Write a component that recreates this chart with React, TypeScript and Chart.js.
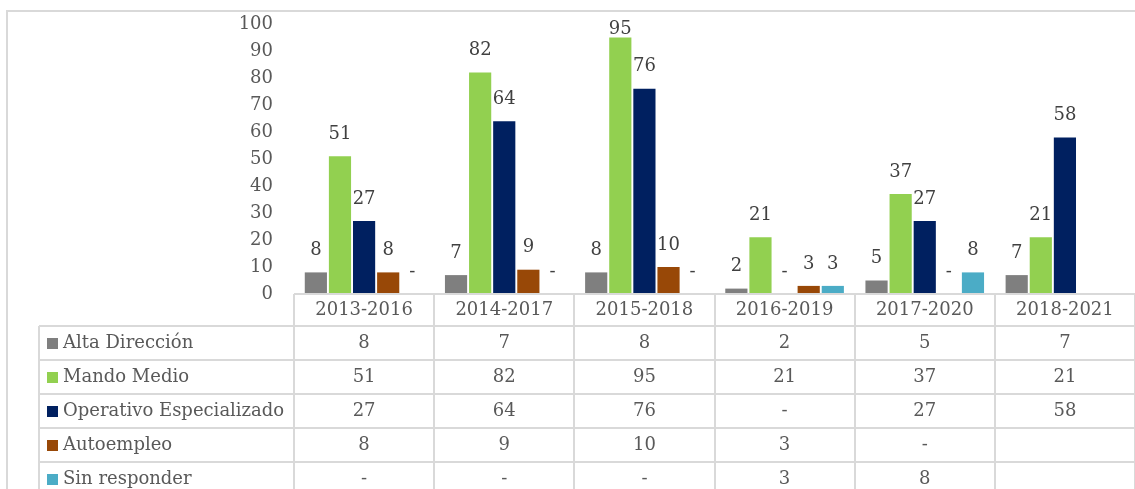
import React, { useEffect, useRef } from "react";
import { Chart, registerables } from "chart.js";

Chart.register(...registerables);

const categories = ["2013-2016", "2014-2017", "2015-2018", "2016-2019", "2017-2020", "2018-2021"];
const seriesNames = ["Alta Dirección", "Mando Medio", "Operativo Especializado", "Autoempleo", "Sin responder"];
const seriesColors = ["#7F7F7F", "#92D050", "#002060", "#984807", "#4BACC6"];
// 0 is shown as "-", null as blank
const altaDireccion: (number | null)[] = [8, 7, 8, 2, 5, 7];
const mandoMedio: (number | null)[] = [51, 82, 95, 21, 37, 21];
const operativoEspecializado: (number | null)[] = [27, 64, 76, 0, 27, 58];
const autoempleo: (number | null)[] = [8, 9, 10, 3, 0, null];
const sinResponder: (number | null)[] = [0, 0, 0, 3, 8, null];
const yTicks = [0, 10, 20, 30, 40, 50, 60, 70, 80, 90, 100];

const seriesValues = [altaDireccion, mandoMedio, operativoEspecializado, autoempleo, sinResponder];

const FONT = "'DejaVu Serif', 'Liberation Serif', serif";
const FS = 18;
const LINE = "#D9D9D9";
const TEXT = "#595959";

const fmt = (v: number | null) => (v === null || v === undefined ? "" : v === 0 ? "-" : String(v));

const framePlugin = {
  id: "frame",
  beforeDraw(chart: any) {
    const ctx = chart.ctx;
    ctx.save();
    ctx.strokeStyle = LINE;
    ctx.lineWidth = 2;
    ctx.beginPath();
    ctx.moveTo(7, chart.height);
    ctx.lineTo(7, 11);
    ctx.lineTo(chart.width, 11);
    ctx.stroke();
    ctx.restore();
  },
};

const valueLabelPlugin = {
  id: "valueLabels",
  afterDatasetsDraw(chart: any) {
    const ctx = chart.ctx;
    const top = chart.chartArea.top;
    ctx.save();
    ctx.font = `${FS}px ${FONT}`;
    ctx.fillStyle = "#404040";
    ctx.textAlign = "center";
    ctx.textBaseline = "middle";
    chart.data.datasets.forEach((ds: any, di: number) => {
      const meta = chart.getDatasetMeta(di);
      meta.data.forEach((bar: any, i: number) => {
        const v = ds.data[i];
        if (v === null || v === undefined) return;
        ctx.fillText(fmt(v), bar.x, Math.max(bar.y - 22, top + 5));
      });
    });
    ctx.restore();
  },
};

const tablePlugin = {
  id: "dataTable",
  afterDraw(chart: any) {
    const ctx = chart.ctx;
    const area = chart.chartArea;
    const W = chart.width;
    const H = chart.height;
    const n = categories.length;
    const colW = (area.right - area.left) / n;
    const headerTop = area.bottom;
    const headerH = 32;
    const rowH = 34;
    const tableLeft = 39;
    ctx.save();
    ctx.strokeStyle = LINE;
    ctx.lineWidth = 2;
    ctx.beginPath();
    ctx.moveTo(area.left, headerTop);
    ctx.lineTo(W, headerTop);
    for (let r = 0; r < seriesNames.length; r++) {
      const y = headerTop + headerH + r * rowH;
      ctx.moveTo(tableLeft, y);
      ctx.lineTo(W, y);
    }
    ctx.moveTo(tableLeft, headerTop + headerH);
    ctx.lineTo(tableLeft, H);
    for (let c = 0; c <= n; c++) {
      const x = Math.round(area.left + c * colW);
      ctx.moveTo(x, headerTop);
      ctx.lineTo(x, H);
    }
    ctx.stroke();

    ctx.font = `${FS}px ${FONT}`;
    ctx.fillStyle = TEXT;
    ctx.textBaseline = "middle";
    ctx.textAlign = "center";
    categories.forEach((c, i) => {
      ctx.fillText(c, area.left + (i + 0.5) * colW, headerTop + headerH / 2 + 0.5);
    });
    seriesNames.forEach((name, r) => {
      const cy = headerTop + headerH + r * rowH + rowH / 2;
      ctx.fillStyle = seriesColors[r];
      ctx.fillRect(47, Math.round(cy - 5.5), 11, 11);
      ctx.fillStyle = TEXT;
      ctx.textAlign = "left";
      ctx.fillText(name, 63, cy + 0.5);
      ctx.textAlign = "center";
      seriesValues[r].forEach((v, i) => {
        ctx.fillText(fmt(v), area.left + (i + 0.5) * colW, cy + 0.5);
      });
    });
    ctx.restore();
  },
};

export default function App() {
  const ref = useRef<HTMLCanvasElement | null>(null);
  useEffect(() => {
    if (!ref.current) return;
    Chart.defaults.font.family = FONT;
    const chart = new Chart(ref.current, {
      type: "bar",
      data: {
        labels: categories,
        datasets: seriesNames.map((name, i) => ({
          label: name,
          data: seriesValues[i] as any,
          backgroundColor: seriesColors[i],
          borderWidth: 0,
          categoryPercentage: 0.86,
          barPercentage: 0.92,
        })),
      },
      options: {
        responsive: false,
        animation: false,
        devicePixelRatio: 1,
        layout: { padding: { left: 0, right: 0, top: 24, bottom: 195 } },
        plugins: {
          legend: { display: false },
          tooltip: { enabled: false },
          title: { display: false },
        },
        scales: {
          x: {
            display: false,
            grid: { display: false },
          },
          y: {
            min: 0,
            max: 100,
            afterFit: (scale: any) => {
              scale.width = 294;
              scale.paddingTop = 0;
              scale.paddingBottom = 0;
            },
            afterBuildTicks: (scale: any) => {
              scale.ticks = yTicks.map((v) => ({ value: v }));
            },
            grid: { display: false, drawTicks: false },
            border: { display: false },
            ticks: {
              padding: 21,
              color: TEXT,
              font: { family: FONT, size: FS },
            },
          },
        },
      },
      plugins: [framePlugin, valueLabelPlugin, tablePlugin],
    });
    return () => chart.destroy();
  }, []);
  return (
    <div style={{ position: "absolute", left: 0, top: 0, width: 1135, height: 489, background: "#fff" }}>
      <canvas ref={ref} width={1135} height={489} style={{ display: "block" }} />
    </div>
  );
}
